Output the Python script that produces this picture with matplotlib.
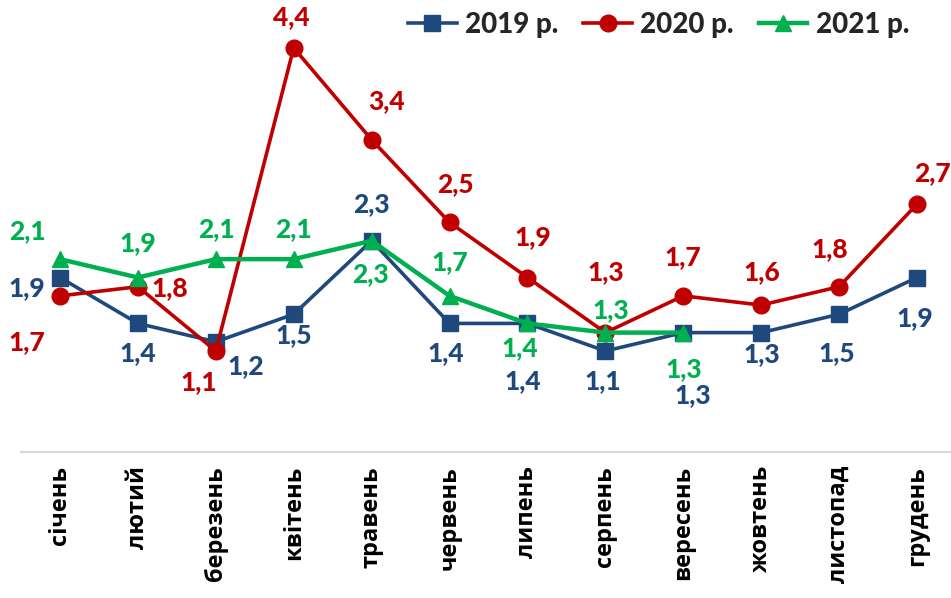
import numpy as np
import matplotlib.pyplot as plt
from matplotlib.lines import Line2D

plt.rcParams['font.family'] = ['Lato', 'DejaVu Sans']

# data
months = ['січень', 'лютий', 'березень', 'квітень', 'травень', 'червень',
          'липень', 'серпень', 'вересень', 'жовтень', 'листопад', 'грудень']
v2019 = [1.9, 1.4, 1.2, 1.5, 2.3, 1.4, 1.4, 1.1, 1.3, 1.3, 1.5, 1.9]
v2020 = [1.7, 1.8, 1.1, 4.4, 3.4, 2.5, 1.9, 1.3, 1.7, 1.6, 1.8, 2.7]
v2021 = [2.1, 1.9, 2.1, 2.1, 2.3, 1.7, 1.4, 1.3, 1.3]
names = ['2019 р.', '2020 р.', '2021 р.']

# label offsets in pixels (dx, dy), dy positive = up
off2019 = [(-33, -11), (0, -30), (30, -24), (0, -21), (0, 37), (-4, -30),
           (-5, -58), (-3, -30), (9, -62), (1, -21), (-2, -39), (-2, -41)]
off2020 = [(-33, -46), (32, -1), (-17, -31), (-2, 31), (15, 39), (6, 38),
           (5, 40), (0, 61), (0, 39), (1, 33), (-9, 38), (15, 31)]
off2021 = [(-33, 28), (0, 34), (1, 30), (0, 30), (-1, -33), (0, 34),
           (-8, -25), (5, 23), (0, -36)]

c2019 = '#1F497D'
c2020 = '#C00000'
c2021 = '#00B050'

fig = plt.figure(figsize=(9.51, 5.98), dpi=100)
ax = fig.add_axes([21/951, (598-452)/598, 935/951, 450/598])
x = np.arange(len(months))

ax.plot(x, v2019, color=c2019, lw=2.6, marker='s', ms=11, zorder=3)
ax.plot(x, v2020, color=c2020, lw=2.6, marker='o', ms=12, zorder=4)
ax.plot(x[:len(v2021)], v2021, color=c2021, lw=3.2, marker='^', ms=12, zorder=5)

def fmt(v):
    return ('%.1f' % v).replace('.', ',')

for vals, offs, col in [(v2019, off2019, c2019), (v2020, off2020, c2020), (v2021, off2021, c2021)]:
    for i, v in enumerate(vals):
        ax.annotate(fmt(v), (i, v), xytext=(offs[i][0]*0.72, offs[i][1]*0.72),
                    textcoords='offset points', ha='center', va='center',
                    fontsize=19, fontweight='black', color=col)

ax.set_xlim(-0.5, 11.5)
ax.set_ylim(0, 4.9)
ax.set_yticks([])
ax.set_xticks(x)
ax.set_xticklabels(months, rotation=90, fontsize=17, fontweight='bold',
                   family=['Open Sans', 'DejaVu Sans'], color='#000000')
ax.tick_params(axis='x', length=0, pad=10)
for s in ['top', 'right', 'left']:
    ax.spines[s].set_visible(False)
ax.spines['bottom'].set_color('#d9d9d9')
ax.spines['bottom'].set_linewidth(1.5)

handles = [Line2D([], [], color=c2019, lw=2.6, marker='s', ms=11),
           Line2D([], [], color=c2020, lw=2.6, marker='o', ms=12),
           Line2D([], [], color=c2021, lw=3.2, marker='^', ms=12)]
leg = fig.legend(handles, names, loc='upper right', bbox_to_anchor=(934/951, 1.022),
                 ncol=3, frameon=False, handlelength=1.75, handletextpad=0.3,
                 columnspacing=0.9, prop={'size': 20, 'weight': 'black'})
for t in leg.get_texts():
    t.set_color('#262626')

fig.savefig('out.png', dpi=100)
